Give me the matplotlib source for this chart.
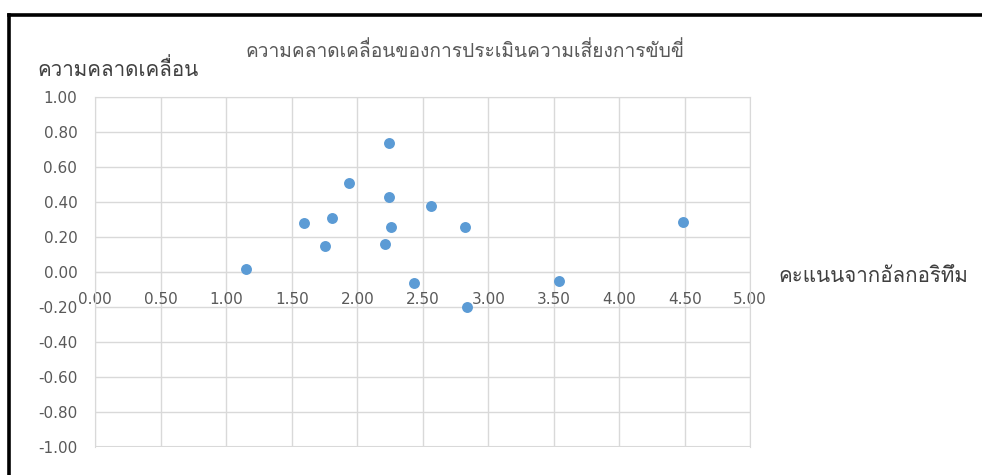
import matplotlib
matplotlib.use("Agg")
import matplotlib.pyplot as plt
from matplotlib import font_manager
from matplotlib.ft2font import FT2Font
from matplotlib.lines import Line2D

# algorithm score vs. estimation error, one point per driver
score = [1.15, 1.59, 1.81, 1.75, 1.94, 2.24, 2.24, 2.26, 2.21, 2.43,
         2.56, 2.82, 2.84, 3.54, 4.49]
error = [0.02, 0.28, 0.31, 0.15, 0.51, 0.74, 0.43, 0.26, 0.16, -0.06,
         0.38, 0.26, -0.20, -0.05, 0.29]

title = "ความคลาดเคลื่อนของการประเมินความเสี่ยงการขับขี่"
x_title = "คะแนนจากอัลกอริทึม"
y_title = "ความคลาดเคลื่อน"
x_ticks = [0.0, 0.5, 1.0, 1.5, 2.0, 2.5, 3.0, 3.5, 4.0, 4.5, 5.0]
y_ticks = [-1.0, -0.8, -0.6, -0.4, -0.2, 0.0, 0.2, 0.4, 0.6, 0.8, 1.0]


def find_thai_font():
    """Pick a regular-weight font file that has Thai glyphs."""
    preferred = []
    others = []
    for f in font_manager.fontManager.ttflist:
        if f.style != "normal" or f.weight not in (400, "normal", "regular"):
            continue
        try:
            cmap = FT2Font(f.fname).get_charmap()
        except Exception:
            continue
        if 0x0E04 in cmap:
            if "Sans" in f.name or "Loma" in f.name or "Garuda" in f.name:
                preferred.append(f)
            else:
                others.append(f)
    fonts = preferred + others
    if not fonts:
        return font_manager.FontProperties(family="DejaVu Sans")
    return font_manager.FontProperties(fname=fonts[0].fname)


thai = find_thai_font()
plt.rcParams["font.family"] = ["DejaVu Sans"]

GRID = "#d9d9d9"
LABEL = "#595959"
BLUE = "#5b9bd5"

fig = plt.figure(figsize=(9.82, 4.75), dpi=100)
ax = fig.add_axes([0.0971, 0.0583, 0.6669, 0.7368])

ax.scatter(score, error, s=62, color=BLUE, linewidths=0, zorder=3)

ax.set_xlim(0, 5)
ax.set_ylim(-1, 1)
ax.set_xticks(x_ticks)
ax.set_yticks(y_ticks)
ax.set_xticklabels([f"{v:.2f}" for v in x_ticks])
ax.set_yticklabels([f"{v:.2f}" for v in y_ticks])
ax.grid(True, color=GRID, lw=1)
ax.set_axisbelow(True)

for side in ("top", "right", "left", "bottom"):
    ax.spines[side].set_color(GRID)
ax.spines["bottom"].set_position(("data", 0))
ax.tick_params(length=0, colors=LABEL, labelsize=11)
ax.tick_params(axis="x", pad=14)
ax.tick_params(axis="y", pad=13)

# bottom edge of the plot area
ax.axhline(-1, color=GRID, lw=1.5, zorder=1)


def thai_text(x, y, s, size, color, ha):
    fp = thai.copy()
    fp.set_size(size)
    fig.text(x, y, s, fontproperties=fp, color=color, ha=ha, va="center")


thai_text(0.474, 0.892, title, 13.8, LABEL, "center")
thai_text(0.038, 0.855, y_title, 14.8, "#404040", "left")
thai_text(0.793, 0.418, x_title, 14.8, "#404040", "left")

# frame around the screenshot
fig.add_artist(Line2D([0.0092, 1.0], [0.9694, 0.9694], color="black", lw=2.6,
                      transform=fig.transFigure))
fig.add_artist(Line2D([0.0092, 0.0092], [0.0, 0.9694], color="black", lw=2.6,
                      transform=fig.transFigure))

fig.savefig("out.png", dpi=100)
